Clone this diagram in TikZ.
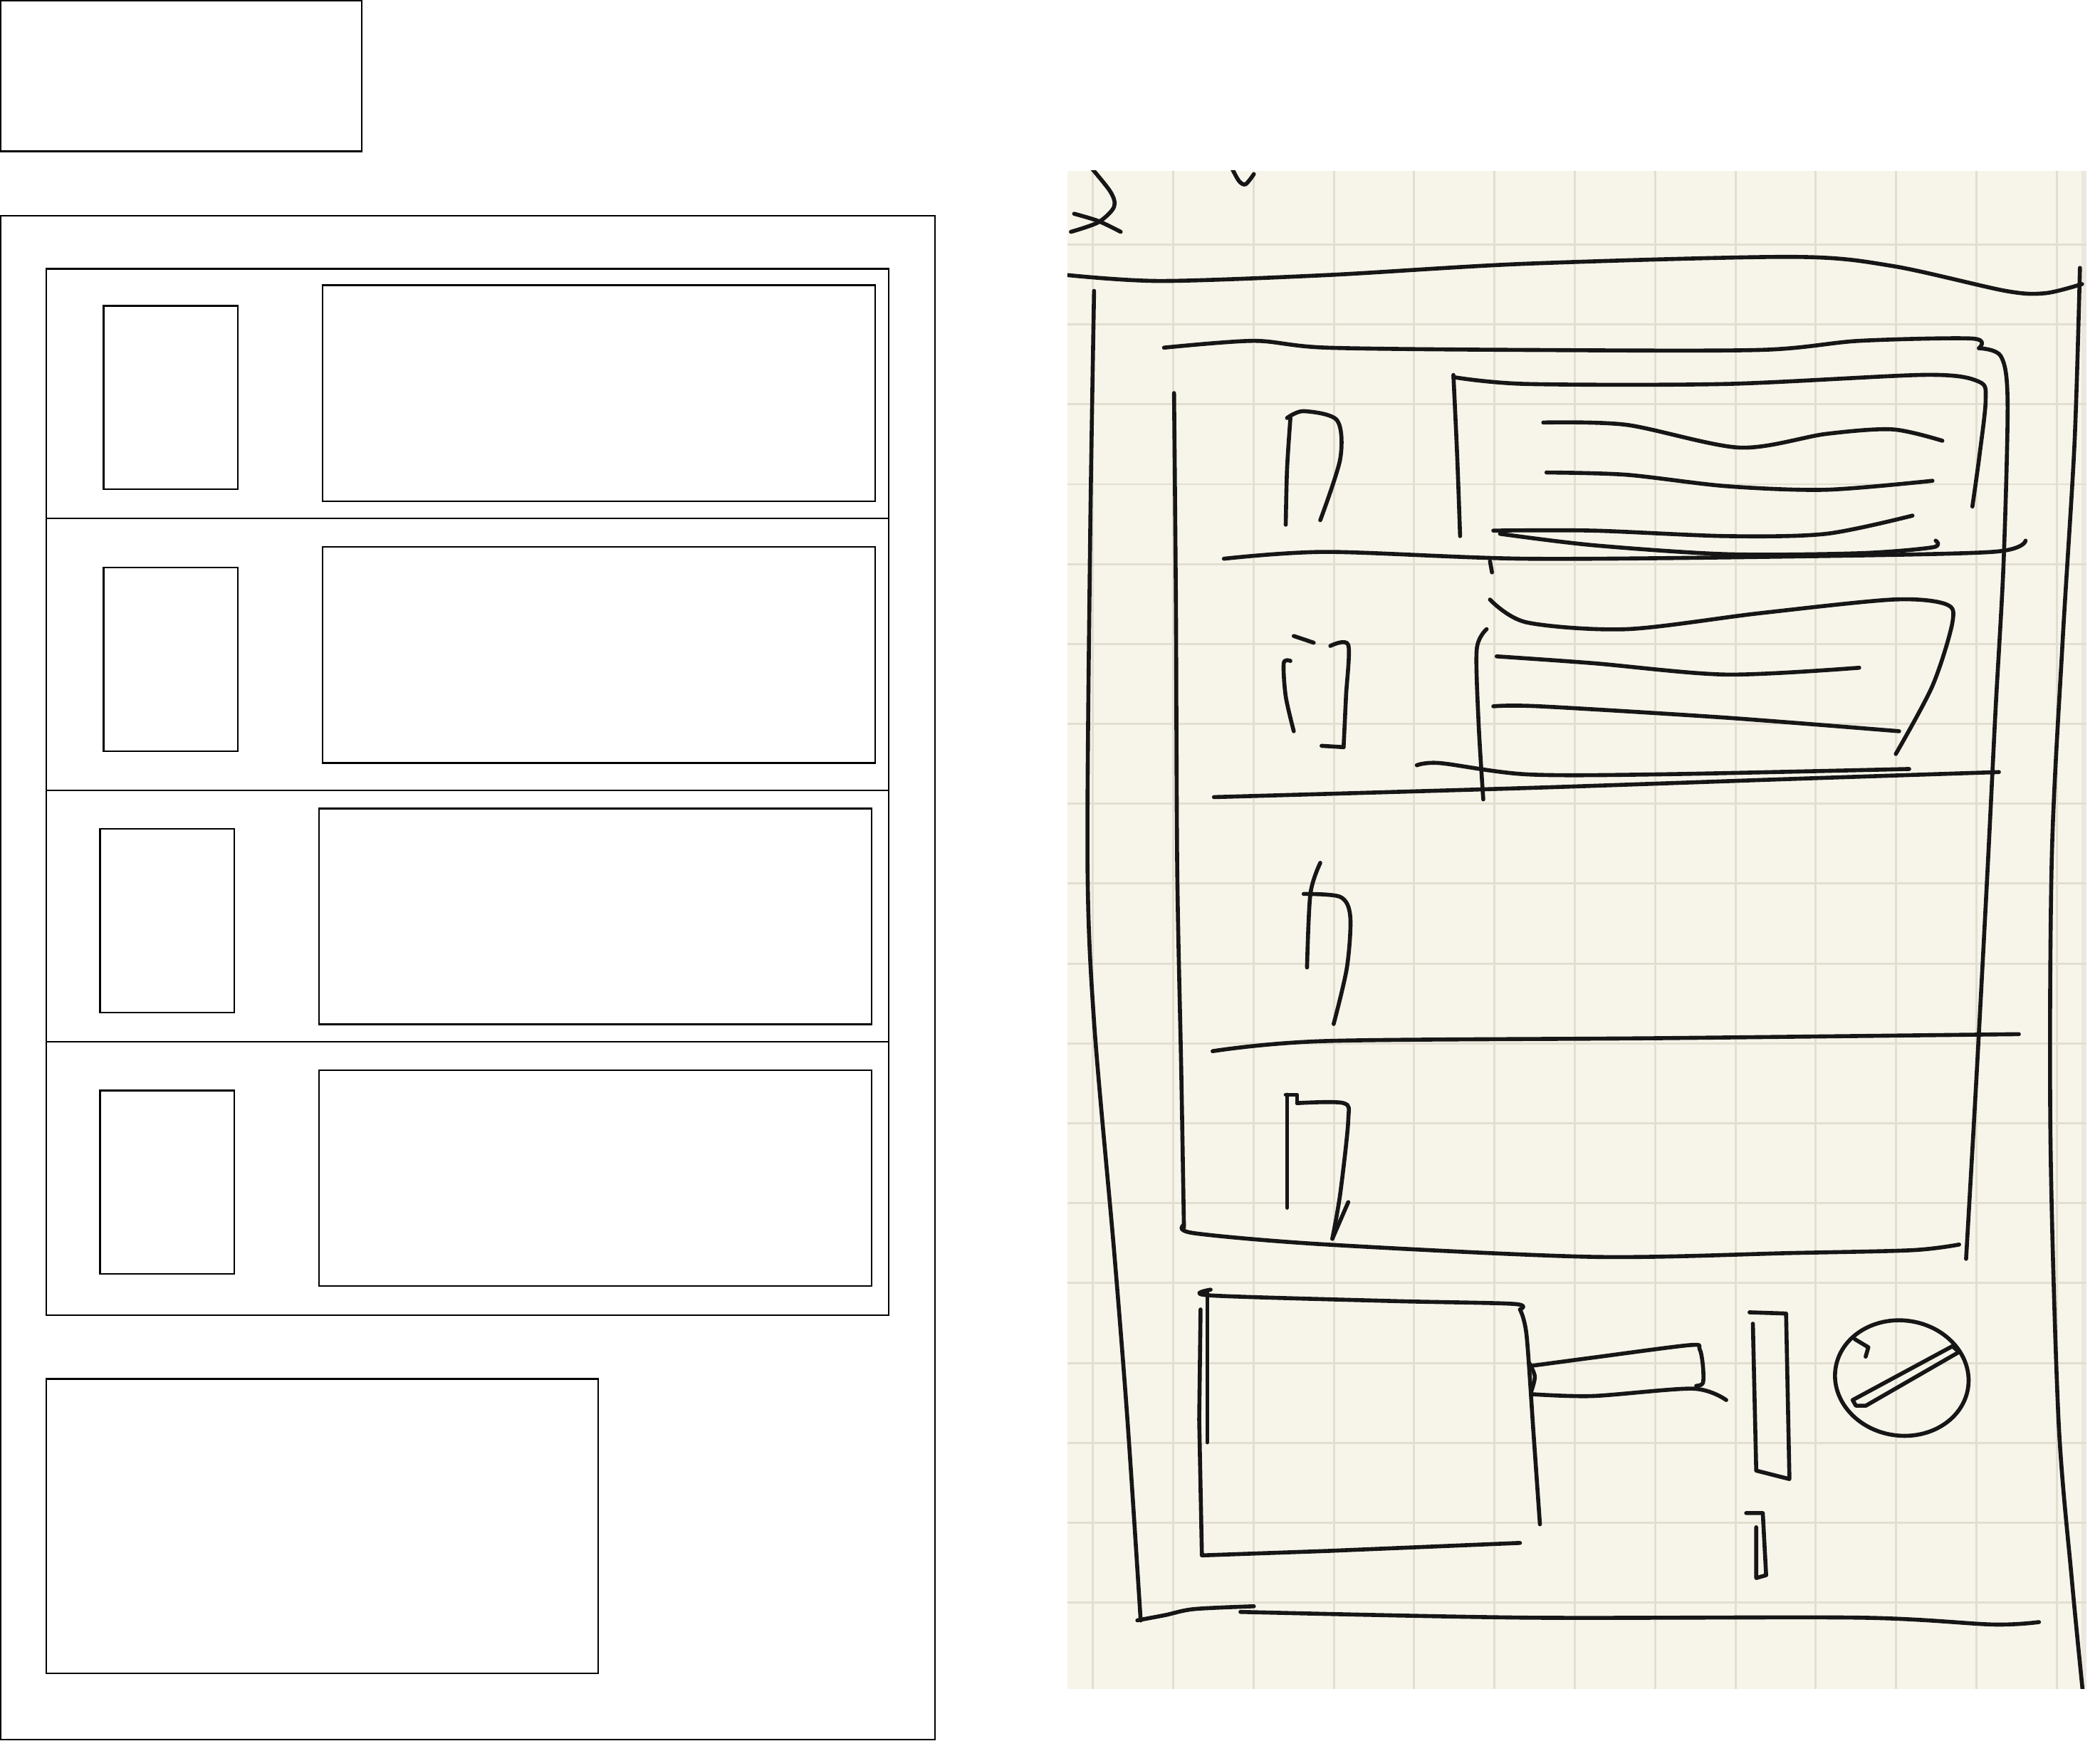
\documentclass[tikz,border=0pt]{standalone}
\usetikzlibrary{calc}
\definecolor{wireink}{HTML}{000000}
\definecolor{penink}{HTML}{161616}
\definecolor{paper}{HTML}{F7F5EA}
\definecolor{paperline}{HTML}{E2DFD1}
\tikzset{
  wire/.style={draw=wireink, line width=0.7pt},
  pen/.style={draw=penink, line width=1.7pt, line cap=round, line join=round},
  gridln/.style={draw=paperline, line width=0.9pt},
}

\begin{document}
\begin{tikzpicture}[x=0.2mm,y=-0.2mm]
  \useasboundingbox (0,0) rectangle (1568,1300);
  % wireframe
  \draw[wire] (0.6,0.6) rectangle (270,113);
  \draw[wire] (0.6,161) rectangle (698,1299);
  \draw[wire] (34.5,200.7) rectangle (663.6,982);
  \foreach \sy in {386.9,590,777.8} \draw[wire] (34.5,\sy) -- (663.6,\sy);
  \foreach \ty/\tx in {228.3/77.4, 423.8/77.4, 619/74.7, 814.3/74.7} {
    \draw[wire] (\tx,\ty) rectangle +(100.3,137);
    \draw[wire] (\tx+163.4,\ty-15.3) rectangle +(412.6,161.2);
  }
  \draw[wire] (34.5,1029.6) rectangle (446.5,1249.5);
  % photo of the sketch
  \fill[paper] (797,127.4) rectangle (1558,1261);
  \fill[paperline!70] (1554,127.4) rectangle (1558,1261);
  \foreach \gx in {0,...,12} \draw[gridln] (816+59.98*\gx,127.4) -- (816+59.98*\gx,1261);
  \foreach \gy in {0,...,17} \draw[gridln] (797,182.6+59.65*\gy) -- (1558,182.6+59.65*\gy);
  \begin{scope}
    \clip (797,127.4) rectangle (1568,1261);
    % scribbles at the top
    \draw[pen] plot[smooth] coordinates {(812,122) (829,143) (831.8,154.5) (820,166) (799.6,173.1)};
    \draw[pen] plot[smooth] coordinates {(802,159.6) (820,165) (836.8,173.1)};
    \draw[pen] plot[smooth] coordinates {(919,124) (925,135) (930,137.6) (936.2,130)};
    % outer frame
    \draw[pen] plot[smooth] coordinates {(797,205.4) (866.6,209.8) (990.8,205.4) (1139.8,196.9) (1338.5,191.8) (1413,198.6) (1497.5,217.2) (1527.3,218.9) (1554.6,212.1)};
    \draw[pen] plot[smooth] coordinates {(1553,200) (1549,330) (1540,480) (1532,640) (1531,850) (1537,1060) (1547,1180) (1555,1262)};
    \draw[pen] plot[smooth] coordinates {(816.9,217.2) (814,400) (812,645) (817,764.6) (831.8,933.5) (841.8,1060) (851.7,1210)};
    \draw[pen] plot[smooth] coordinates {(849.2,1209.9) (870,1206) (891.5,1201.5) (936.2,1199.4)};
    \draw[pen] plot[smooth] coordinates {(926.2,1203.6) (1139.8,1207.9) (1388.2,1207.9) (1487.6,1213) (1522.4,1211.2)};
    % list box
    \draw[pen] plot[smooth] coordinates {(869.1,259.6) (936.2,254.5) (990.8,259.6) (1139.8,261.3) (1313.7,261.3) (1388.2,254.5) (1472.7,252.8) (1477.6,260)};
    \draw[pen] plot[smooth] coordinates {(1477.6,260) (1494,266) (1499,300) (1496,420) (1490,530) (1484,650) (1476,800) (1468,940)};
    \draw[pen] plot[smooth] coordinates {(876.6,293.5) (878,450) (879,650) (882,800) (884,916.6)};
    \draw[pen] plot[smooth] coordinates {(884,914.5) (891.5,920.8) (990.8,929.3) (1189.5,938.5) (1338.5,935.6) (1427.9,933.5) (1462.8,929.3)};
    % row separators
    \draw[pen] plot[smooth] coordinates {(913.8,417.2) (990.8,412.1) (1139.8,417.2) (1338.5,415.5) (1487.6,412.1) (1512.4,403.7)};
    \draw[pen] plot[smooth] coordinates {(906.4,595.2) (1139.8,588.4) (1338.5,581.6) (1492.5,576.5)};
    \draw[pen] plot[smooth] coordinates {(905.4,784.9) (990.8,777.3) (1239.2,775.2) (1507.4,772.2)};
    % row 1
    \draw[pen] plot[smooth] coordinates {(963.5,312.1) (961,350) (960,391.8)};
    \draw[pen] plot[smooth] coordinates {(961,312.1) (973.4,307) (998.3,313.8) (1000.7,342.6) (985.8,388.4)};
    \draw[pen] plot[smooth] coordinates {(1085.2,280) (1088,340) (1090.2,400.3)};
    \draw[pen] plot[smooth] coordinates {(1085.2,281.6) (1139.8,286.7) (1288.9,286.7) (1437.9,279.9) (1477.6,285) (1482.6,298.6) (1478,340) (1472.7,378.2)};
    \draw[pen] plot[smooth] coordinates {(1152.3,315.5) (1214.4,317.2) (1298.8,334.2) (1363.4,324.0) (1413,320.6) (1450.3,329.1)};
    \draw[pen] plot[smooth] coordinates {(1154.7,352.8) (1214.4,354.5) (1288.9,363) (1363.4,365.7) (1442.9,359)};
    \draw[pen] plot[smooth] coordinates {(1115,396.2) (1189.5,396.2) (1288.9,400.3) (1363.4,398.6) (1428,385)};
    \draw[pen] plot[smooth] coordinates {(1120,398.6) (1189.5,407.1) (1288.9,413.8) (1388.2,413.1) (1442.9,408.7) (1445.3,403.7)};
    % row 2
    \draw[pen] (1112.5,419) -- (1114,427.4);
    \draw[pen] plot[smooth] coordinates {(1112.5,447.7) (1139.8,464.7) (1214.4,469.8) (1313.7,457.9) (1413,447.7) (1452.8,451.1) (1457.8,464.7) (1442.9,512.1) (1415.5,563)};
    \draw[pen] plot[smooth] coordinates {(1110,469.8) (1102.6,485) (1104,540) (1107.5,596.9)};
    \draw[pen] plot[smooth] coordinates {(1117.5,490.1) (1189.5,495.2) (1288.9,503.7) (1388.2,498.6)};
    \draw[pen] plot[smooth] coordinates {(1115,527.4) (1149.8,527.4) (1288.9,535.9) (1418,546.0)};
    \draw[pen] plot[smooth] coordinates {(1057.9,571.4) (1075.3,569.8) (1139.8,578.2) (1239.2,578.2) (1425.5,574.2)};
    \draw[pen] (966,474.9) -- (980.9,479.9);
    \draw[pen] plot[smooth] coordinates {(993.3,482.3) (1006.7,481.6) (1005,520) (1003.2,557.9)};
    \draw[pen] (1003.2,557.9) -- (986.8,556.9);
    \draw[pen] plot[smooth] coordinates {(963.5,493.5) (958.5,495.2) (960,520) (966,546)};
    % row 3
    \draw[pen] plot[smooth] coordinates {(985.8,644.3) (978.4,667.5) (975.9,722.4)};
    \draw[pen] plot[smooth] coordinates {(973.4,667.5) (1000.7,669.7) (1008.2,684.4) (1005.7,722.4) (995.8,764.6)};
    % row 4
    \draw[pen] (961,817.4) -- (961,901.8);
    \draw[pen] (960,817.4) -- (968.5,817.4) -- (968.5,823.7);
    \draw[pen] plot[smooth] coordinates {(968.5,823.7) (1003.2,823.7) (1006.7,836.4) (1000.7,891.3) (994.8,925)};
    \draw[pen] (994.8,925) -- (1006.7,897.6);
    % bottom panel
    \draw[pen] plot[smooth] coordinates {(903.9,963.0) (903.9,967.3) (1040.5,971.5) (1129.9,973.6) (1134.9,977.8)};
    \draw[pen] plot[smooth] coordinates {(1134.9,977.8) (1139.8,996.8) (1145,1070) (1149.8,1138.2)};
    \draw[pen] (901.4,965.2) -- (901.4,1077);
    \draw[pen] (896.4,977.8) -- (895.4,1060.1) -- (897.4,1161.4) -- (990.8,1158.1) -- (1134.9,1152.1);
    \draw[pen] plot[smooth] coordinates {(1142.3,1020) (1189.5,1013.7) (1261.6,1004.4) (1269,1007.4) (1271.5,1020) (1271.5,1032.7) (1266.5,1034.8)};
    \draw[pen] plot[smooth] coordinates {(1144.8,1041.1) (1189.5,1042.4) (1264,1036.9) (1288.9,1045.4)};
    \draw[pen] plot[smooth] coordinates {(1142,1018) (1146,1028) (1143,1040)};
    \draw[pen] (1306.3,979.9) -- (1333.6,980.8) -- (1336.1,1104.4) -- (1311.3,1098.1) -- (1308.8,988.4);
    \draw[pen] (1303.8,1129.8) -- (1316.2,1129.8) -- (1318.7,1176.2) -- (1311.3,1178.3) -- (1311.3,1140.4);
    \draw[pen, rotate around={-8:(1420,1029)}] (1420,1029) ellipse [x radius=50, y radius=43];
    \draw[pen] (1385,1000) -- (1395,1006) -- (1393,1013);
    \draw[pen] (1383.3,1045.4) -- (1457.8,1005.2) -- (1462.8,1009.5) -- (1393.2,1049.6) -- (1385.7,1049.6) -- cycle;
  \end{scope}
\end{tikzpicture}
\end{document}
